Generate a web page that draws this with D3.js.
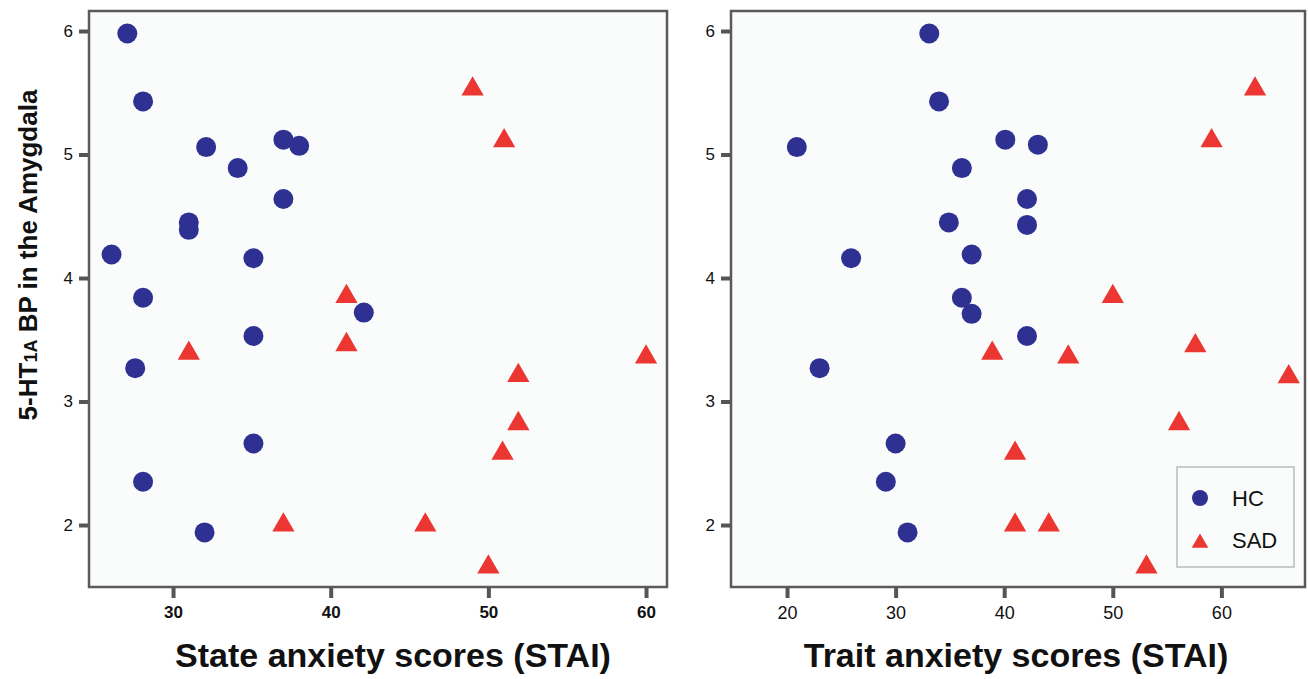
<!DOCTYPE html>
<meta charset="utf-8">
<script src="https://cdn.jsdelivr.net/npm/d3@7"></script>
<style>
body { margin: 0; background: #fff; }
text { font-family: "Liberation Sans", Arial, sans-serif; fill: #111; }
.frame { fill: #fafcfc; stroke: #5a5a5a; stroke-width: 2.5px; }
.tick line { stroke: #555; stroke-width: 4px; }
.legend-box { fill: #fafcfc; stroke: #bbb; stroke-width: 1.5px; }
</style>
<body>
<script>

// values
var yTicks = [2, 3, 4, 5, 6];
var stateTicks = [30, 40, 50, 60];
var traitTicks = [20, 30, 40, 50, 60];

var stateHC = [[27.1, 5.98], [28.1, 5.43], [32.1, 5.06], [34.1, 4.89], [37, 5.12], [38, 5.07],
  [37, 4.64], [31, 4.45], [31, 4.39], [26.1, 4.19], [35.1, 4.16], [28.1, 3.84], [42.1, 3.72],
  [35.1, 3.53], [27.6, 3.27], [35.1, 2.66], [28.1, 2.35], [32, 1.94]];
var stateSAD = [[49, 5.53], [51, 5.11], [41, 3.85], [41, 3.46], [31, 3.39], [60, 3.36],
  [51.9, 3.21], [51.9, 2.82], [50.9, 2.58], [37, 2.0], [46, 2.0], [50, 1.66]];

var traitHC = [[33.1, 5.98], [34, 5.43], [20.9, 5.06], [40.1, 5.12], [43.1, 5.08], [36.1, 4.89],
  [42.1, 4.64], [34.9, 4.45], [42.1, 4.43], [25.9, 4.16], [37, 4.19], [36.1, 3.84], [37, 3.71],
  [42.1, 3.53], [23, 3.27], [30, 2.66], [29.1, 2.35], [31.1, 1.94]];
var traitSAD = [[63.1, 5.53], [59.1, 5.11], [50, 3.85], [38.9, 3.39], [45.9, 3.36], [57.6, 3.45],
  [66.2, 3.2], [56.1, 2.82], [41, 2.58], [41, 2.0], [44.1, 2.0], [53.1, 1.66]];

var groups = ["HC", "SAD"];
var colors = {HC: "#2e3192", SAD: "#ec3631"};

var width = 1308, height = 679;
var plotTop = 11, plotBottom = 587;

var svg = d3.select("body").append("svg")
    .attr("width", width)
    .attr("height", height);

var y = d3.scaleLinear().domain([1.498, 6.162]).range([plotBottom, plotTop]);

var panels = [
  {left: 89, right: 667, domain: [24.67, 61.33], ticks: stateTicks, bold: true, titleX: 393,
   hc: stateHC, sad: stateSAD, title: "State anxiety scores (STAI)"},
  {left: 731, right: 1305, domain: [14.84, 67.7], ticks: traitTicks, bold: false, titleX: 1016,
   hc: traitHC, sad: traitSAD, title: "Trait anxiety scores (STAI)"}
];

var tri = d3.symbol().type(d3.symbolTriangle).size(215);

panels.forEach(function(p) {
  var x = d3.scaleLinear().domain(p.domain).range([p.left, p.right]);

  svg.append("rect").attr("class", "frame")
      .attr("x", p.left).attr("y", plotTop)
      .attr("width", p.right - p.left).attr("height", plotBottom - plotTop);

  var xa = svg.append("g")
      .attr("transform", "translate(0," + (plotBottom + 1) + ")")
      .call(d3.axisBottom(x).tickValues(p.ticks).tickSize(10).tickPadding(8).tickFormat(d3.format("d")));
  xa.select(".domain").remove();
  xa.selectAll("text")
      .style("font-size", p.bold ? "17px" : "18px")
      .style("font-weight", p.bold ? "bold" : "normal");

  var ya = svg.append("g")
      .attr("transform", "translate(" + (p.left - 1) + ",0)")
      .call(d3.axisLeft(y).tickValues(yTicks).tickSize(9).tickPadding(6).tickFormat(d3.format("d")));
  ya.select(".domain").remove();
  ya.selectAll("text").style("font-size", "17px");

  svg.append("g").selectAll("path")
      .data(p.sad).enter().append("path")
      .attr("d", tri)
      .attr("transform", function(d) { return "translate(" + x(d[0]) + "," + y(d[1]) + ")"; })
      .attr("fill", colors.SAD);

  svg.append("g").selectAll("circle")
      .data(p.hc).enter().append("circle")
      .attr("cx", function(d) { return x(d[0]); })
      .attr("cy", function(d) { return y(d[1]); })
      .attr("r", 10)
      .attr("fill", colors.HC);

  svg.append("text")
      .attr("x", p.titleX)
      .attr("y", 667)
      .attr("text-anchor", "middle")
      .style("font-size", "34px")
      .style("font-weight", "bold")
      .text(p.title);
});

// y title with the small "1A"
var yt = svg.append("text")
    .attr("transform", "translate(37,255) rotate(-90)")
    .attr("text-anchor", "middle")
    .style("font-size", "26px")
    .style("font-weight", "bold");
yt.append("tspan").text("5-HT");
yt.append("tspan").style("font-size", "18px").text("1A");
yt.append("tspan").text(" BP in the Amygdala");

// legend
var lg = svg.append("g").attr("transform", "translate(1177,467)");
lg.append("rect").attr("class", "legend-box")
    .attr("width", 117).attr("height", 100);
var item = lg.selectAll(".item").data(groups).enter().append("g")
    .attr("transform", function(d, i) { return "translate(23," + (31 + i * 42) + ")"; });
item.filter(function(d) { return d == "HC"; }).append("circle")
    .attr("r", 8).attr("fill", colors.HC);
item.filter(function(d) { return d == "SAD"; }).append("path")
    .attr("d", d3.symbol().type(d3.symbolTriangle).size(120))
    .attr("transform", "translate(0,3)")
    .attr("fill", colors.SAD);
item.append("text")
    .attr("x", 32).attr("dy", "0.36em")
    .style("font-size", "22px")
    .text(function(d) { return d; });

</script>
</body>
</html>
